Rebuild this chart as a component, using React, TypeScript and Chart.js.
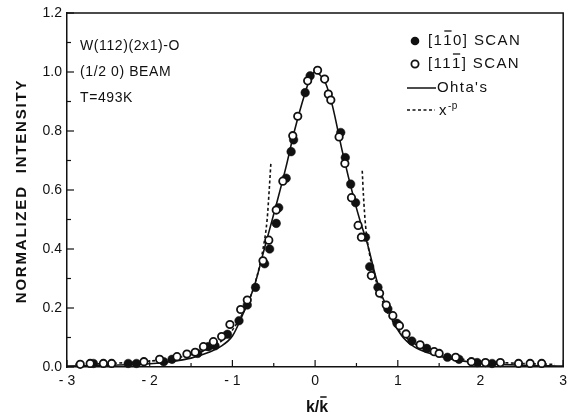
import React, { useEffect, useRef } from 'react';
import { Chart, registerables } from 'chart.js';
Chart.register(...registerables);

// [1-10] SCAN (filled circles)
const scanAX = [-2.68, -2.26, -2.16, -1.83, -1.73, -1.42, -1.29, -1.21, -1.06, -0.92, -0.82, -0.72, -0.61, -0.55, -0.47, -0.44, -0.35, -0.29, -0.26, -0.12, -0.06, 0.31, 0.365, 0.43, 0.49, 0.61, 0.66, 0.76, 0.88, 0.99, 1.17, 1.35, 1.60, 1.74, 1.96, 2.14];
const scanAY = [0.012, 0.012, 0.012, 0.018, 0.026, 0.046, 0.069, 0.072, 0.111, 0.157, 0.21, 0.27, 0.35, 0.40, 0.487, 0.54, 0.64, 0.73, 0.77, 0.93, 0.987, 0.795, 0.71, 0.62, 0.557, 0.44, 0.34, 0.27, 0.197, 0.148, 0.088, 0.063, 0.033, 0.026, 0.015, 0.012];

// [11-1] SCAN (open circles)
const scanBX = [-2.84, -2.72, -2.56, -2.46, -2.07, -1.88, -1.67, -1.55, -1.45, -1.35, -1.23, -1.13, -1.03, -0.90, -0.82, -0.63, -0.56, -0.47, -0.39, -0.27, -0.21, -0.09, 0.03, 0.115, 0.16, 0.19, 0.29, 0.36, 0.44, 0.52, 0.56, 0.68, 0.78, 0.86, 0.94, 1.02, 1.10, 1.27, 1.44, 1.50, 1.70, 1.89, 2.06, 2.24, 2.46, 2.60, 2.74];
const scanBY = [0.009, 0.012, 0.012, 0.012, 0.018, 0.026, 0.035, 0.044, 0.05, 0.069, 0.086, 0.103, 0.144, 0.195, 0.227, 0.36, 0.43, 0.532, 0.63, 0.784, 0.85, 0.97, 1.006, 0.976, 0.925, 0.905, 0.78, 0.69, 0.574, 0.48, 0.44, 0.31, 0.25, 0.21, 0.174, 0.14, 0.112, 0.075, 0.052, 0.046, 0.033, 0.018, 0.015, 0.015, 0.012, 0.012, 0.012];

// Ohta's (solid line)
const ohtaX = [-3, -2.5, -2, -1.75, -1.5, -1.3, -1.15, -1.0, -0.88, -0.74, -0.6, -0.46, -0.35, -0.25, -0.12, -0.05, 0, 0.06, 0.13, 0.21, 0.33, 0.47, 0.55, 0.63, 0.75, 0.9, 1.05, 1.2, 1.4, 1.6, 1.8, 2.0, 2.5, 3];
const ohtaY = [0.003, 0.006, 0.011, 0.018, 0.03, 0.048, 0.068, 0.105, 0.175, 0.27, 0.415, 0.56, 0.68, 0.8, 0.93, 0.985, 1.0, 0.99, 0.96, 0.885, 0.73, 0.57, 0.49, 0.42, 0.29, 0.18, 0.105, 0.068, 0.045, 0.03, 0.02, 0.013, 0.006, 0.003];

// x^-p (dashed line), left and right branches
const powLeftX = [-2.9, -2.5, -2.0, -1.7, -1.5, -1.3, -1.1, -1.0, -0.9, -0.8, -0.7, -0.63, -0.58, -0.555, -0.535];
const powLeftY = [0.009, 0.012, 0.02, 0.03, 0.042, 0.06, 0.095, 0.125, 0.17, 0.225, 0.31, 0.40, 0.5, 0.6, 0.69];
const powRightX = [0.57, 0.585, 0.61, 0.66, 0.75, 0.85, 1.0, 1.1, 1.3, 1.5, 1.7, 2.0, 2.5, 2.9];
const powRightY = [0.665, 0.58, 0.48, 0.38, 0.28, 0.2, 0.13, 0.1, 0.063, 0.043, 0.03, 0.02, 0.012, 0.009];

const annotationLines = ['W(112)(2x1)-O', '(1/2 0) BEAM', 'T=493K'];
const yTitle = 'NORMALIZED  INTENSITY';

const INK = '#111';
const FONT = '"Liberation Sans", Arial, Helvetica, sans-serif';

const pts = (xs: number[], ys: number[]) => xs.map((x, i) => ({ x, y: ys[i] }));

type Part = { t: string; bar?: boolean };

function drawBarred(ctx: CanvasRenderingContext2D, x: number, y: number, parts: Part[], barY: number) {
  let cx = x;
  for (const p of parts) {
    const w = ctx.measureText(p.t).width;
    ctx.fillText(p.t, cx, y);
    if (p.bar) {
      ctx.beginPath();
      ctx.moveTo(cx + 1, barY);
      ctx.lineTo(cx + w - 1.5, barY);
      ctx.stroke();
    }
    cx += w;
  }
}

const overlay = {
  id: 'overlay',
  afterDraw(chart: any) {
    const ctx: CanvasRenderingContext2D = chart.ctx;
    const { left, right, top, bottom } = chart.chartArea;
    const xs = chart.scales.x;
    const ys = chart.scales.y;
    ctx.save();
    ctx.strokeStyle = INK;
    ctx.fillStyle = INK;
    // frame (top and right)
    ctx.lineWidth = 1.5;
    ctx.beginPath();
    ctx.moveTo(left, top);
    ctx.lineTo(right, top);
    ctx.lineTo(right, bottom);
    ctx.stroke();
    // inward ticks
    ctx.lineWidth = 1.2;
    for (let i = -6; i <= 6; i++) {
      const px = xs.getPixelForValue(i / 2);
      const len = i % 2 === 0 ? 7 : 4;
      ctx.beginPath();
      ctx.moveTo(px, bottom);
      ctx.lineTo(px, bottom - len);
      ctx.stroke();
    }
    for (let i = 0; i <= 12; i++) {
      const py = ys.getPixelForValue(i / 10);
      const len = i % 2 === 0 ? 7 : 4;
      ctx.beginPath();
      ctx.moveTo(left, py);
      ctx.lineTo(left + len, py);
      ctx.stroke();
    }

    // annotations
    ctx.textBaseline = 'middle';
    ctx.textAlign = 'left';
    ctx.font = `14px ${FONT}`;
    (ctx as any).letterSpacing = '0.6px';
    annotationLines.forEach((s, i) => ctx.fillText(s, 80, 46 + i * 26));

    // legend
    ctx.font = `15px ${FONT}`;
    (ctx as any).letterSpacing = '1.4px';
    ctx.lineWidth = 1.3;
    // filled marker
    ctx.beginPath();
    ctx.arc(415, 41, 4.3, 0, Math.PI * 2);
    ctx.fill();
    drawBarred(ctx, 428, 41, [{ t: '[1' }, { t: '1', bar: true }, { t: '0] SCAN' }], 31);
    // open marker
    ctx.lineWidth = 1.8;
    ctx.beginPath();
    ctx.arc(415, 64, 3.6, 0, Math.PI * 2);
    ctx.stroke();
    ctx.lineWidth = 1.3;
    drawBarred(ctx, 428, 64, [{ t: '[11' }, { t: '1', bar: true }, { t: '] SCAN' }], 54);
    // solid line
    ctx.lineWidth = 1.5;
    ctx.beginPath();
    ctx.moveTo(407, 88);
    ctx.lineTo(436, 88);
    ctx.stroke();
    ctx.fillText("Ohta's", 437, 88);
    // dashed line
    ctx.setLineDash([3, 2.5]);
    ctx.beginPath();
    ctx.moveTo(407, 110);
    ctx.lineTo(435, 110);
    ctx.stroke();
    ctx.setLineDash([]);
    ctx.fillText('x', 439, 111);
    ctx.font = `10px ${FONT}`;
    (ctx as any).letterSpacing = '0.5px';
    ctx.fillText('-p', 448, 106);

    // y title
    ctx.save();
    ctx.translate(22, 191);
    ctx.rotate(-Math.PI / 2);
    ctx.textAlign = 'center';
    ctx.font = `bold 15px ${FONT}`;
    (ctx as any).letterSpacing = '1.8px';
    ctx.fillText(yTitle, 0, 0);
    ctx.restore();

    // x title k/k-bar
    ctx.font = `bold 16px ${FONT}`;
    (ctx as any).letterSpacing = '0px';
    ctx.textAlign = 'left';
    ctx.textBaseline = 'alphabetic';
    const full = ctx.measureText('k/k').width;
    const x0 = 317 - full / 2;
    ctx.lineWidth = 1.5;
    drawBarred(ctx, x0, 412, [{ t: 'k/' }, { t: 'k', bar: true }], 397);
    ctx.restore();
  },
};

export default function App() {
  const ref = useRef<HTMLCanvasElement>(null);
  useEffect(() => {
    document.body.style.margin = '0';
    const chart = new Chart(ref.current!, {
      type: 'scatter',
      data: {
        datasets: [
          {
            label: '[11-1] SCAN',
            data: pts(scanBX, scanBY),
            pointRadius: 3.7,
            pointBorderWidth: 1.8,
            pointBackgroundColor: '#fff',
            pointBorderColor: INK,
            showLine: false,
            clip: false as any,
          },
          {
            label: '[1-10] SCAN',
            data: pts(scanAX, scanAY),
            pointRadius: 4.3,
            pointBorderWidth: 0.5,
            pointBackgroundColor: INK,
            pointBorderColor: INK,
            showLine: false,
            clip: false as any,
          },
          {
            label: "Ohta's",
            data: pts(ohtaX, ohtaY),
            showLine: true,
            pointRadius: 0,
            borderColor: INK,
            borderWidth: 1.6,
            cubicInterpolationMode: 'monotone',
          } as any,
          {
            label: 'x-p left',
            data: pts(powLeftX, powLeftY),
            showLine: true,
            pointRadius: 0,
            borderColor: INK,
            borderWidth: 1.6,
            borderDash: [3, 2.5],
            cubicInterpolationMode: 'monotone',
          } as any,
          {
            label: 'x-p right',
            data: pts(powRightX, powRightY),
            showLine: true,
            pointRadius: 0,
            borderColor: INK,
            borderWidth: 1.6,
            borderDash: [3, 2.5],
            cubicInterpolationMode: 'monotone',
          } as any,
        ],
      },
      options: {
        animation: false,
        responsive: false,
        devicePixelRatio: 1,
        layout: { padding: { top: 13, right: 1, left: 0, bottom: 0 } },
        plugins: { legend: { display: false }, tooltip: { enabled: false } },
        scales: {
          x: {
            type: 'linear',
            min: -3,
            max: 3,
            afterFit: (s: any) => {
              s.height = 48;
              s.paddingLeft = 0;
              s.paddingRight = 0;
            },
            ticks: {
              stepSize: 1,
              padding: 6,
              color: INK,
              font: { family: FONT, size: 14 },
              maxRotation: 0,
              callback: (v: any) => (v < 0 ? '- ' + Math.abs(v) : String(v)),
            },
            grid: { display: false, drawTicks: false },
            border: { display: true, color: INK, width: 1.5 },
          },
          y: {
            type: 'linear',
            min: 0,
            max: 1.2,
            afterFit: (s: any) => {
              s.width = 67;
              s.paddingTop = 0;
              s.paddingBottom = 0;
            },
            ticks: {
              stepSize: 0.2,
              padding: 5,
              color: INK,
              font: { family: FONT, size: 14 },
              callback: (v: any) => Number(v).toFixed(1),
            },
            grid: { display: false, drawTicks: false },
            border: { display: true, color: INK, width: 1.5 },
          },
        },
      },
      plugins: [overlay],
    });
    return () => chart.destroy();
  }, []);
  return (
    <div style={{ position: 'absolute', left: 0, top: 0, width: 569, height: 415, background: '#fff' }}>
      <canvas ref={ref} width={569} height={415} style={{ display: 'block', width: 569, height: 415 }} />
    </div>
  );
}
